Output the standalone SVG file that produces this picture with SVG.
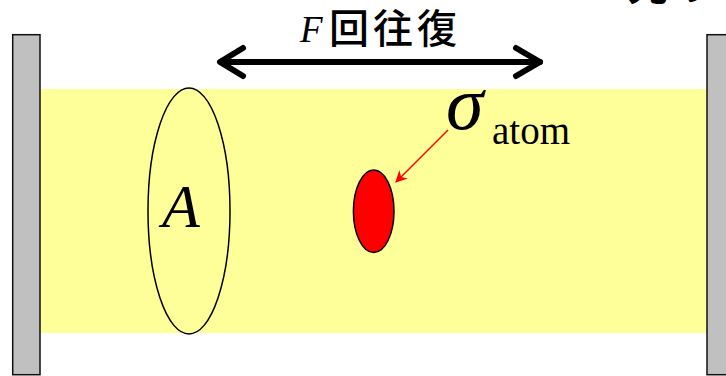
<svg xmlns="http://www.w3.org/2000/svg" width="726" height="376" viewBox="0 0 726 376">
<defs>
<style>
.mirror{fill:#C0C0C0;stroke:#111;stroke-width:1.5}
.serif{font-family:"Liberation Serif","Times New Roman",serif;fill:#000}
.jp{font-family:"Noto Sans CJK JP","Noto Sans",sans-serif;fill:#000}
</style>
<marker id="redhead" viewBox="0 0 10 10" refX="9" refY="5" markerWidth="12" markerHeight="12" markerUnits="userSpaceOnUse" orient="auto">
<path d="M0,0 L10,5 L0,10 L3,5 Z" fill="#FF0000"/>
</marker>
</defs>
<rect width="726" height="376" fill="#fff"/>
<g id="cavity">
<rect x="40" y="89" width="667" height="244" fill="#FFFF99"/>
</g>
<g id="mirror-left">
<rect class="mirror" x="12.7" y="34.7" width="27.3" height="340"/>
</g>
<g id="mirror-right">
<rect class="mirror" x="707" y="34.7" width="30" height="340"/>
</g>
<g id="beam-area">
<ellipse cx="189" cy="211" rx="41" ry="123" fill="none" stroke="#000" stroke-width="1.5"/>
<text class="serif" x="162" y="227" font-size="62" font-style="italic">A</text>
</g>
<g id="atom">
<ellipse cx="373.7" cy="211.3" rx="20.3" ry="41.3" fill="#FF0000" stroke="#000" stroke-width="1.5"/>
</g>
<g id="sigma-label">
<text class="serif" x="446" y="129" font-size="76" font-style="italic">σ</text>
<text class="serif" x="492" y="144" font-size="39">atom</text>
</g>
<g id="round-trip-label">
<text class="serif" x="300" y="42" font-size="37" font-style="italic">F</text>
<text class="jp" x="329" y="43" font-size="40" font-weight="500" letter-spacing="4">回往復</text>
</g>
<g id="top-right-label">
<text class="jp" x="628" y="0" font-size="40" font-weight="bold">光の</text>
</g>
<g id="connectors">
<path d="M221,62 L540,62" stroke="#000" stroke-width="6" fill="none" stroke-linecap="round"/>
<path d="M243,48 L220,62 L243,76" stroke="#000" stroke-width="6" fill="none" stroke-linecap="round" stroke-linejoin="round"/>
<path d="M516,48 L540,62 L516,76" stroke="#000" stroke-width="6" fill="none" stroke-linecap="round" stroke-linejoin="round"/>
<line x1="448" y1="130" x2="396" y2="182" stroke="#FF0000" stroke-width="1.5" marker-end="url(#redhead)"/>
</g>
</svg>
